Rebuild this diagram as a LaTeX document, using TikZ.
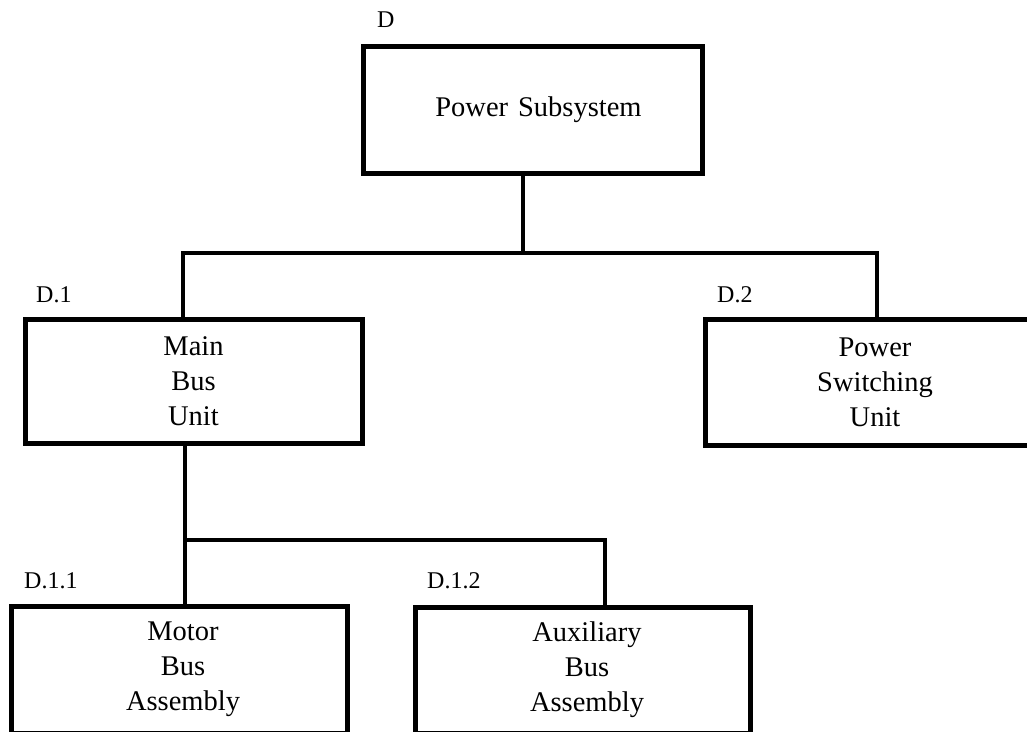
\documentclass[tikz,border=0pt]{standalone}
\usepackage{fontspec}
\setmainfont{Liberation Serif}
\begin{document}
\begin{tikzpicture}[x=1pt,y=-1pt,
  unitbox/.style={draw=black, line width=5pt, rectangle, inner sep=0pt,
    align=center, font=\fontsize{28.5}{35}\selectfont},
  tag/.style={anchor=base west, inner sep=0pt, font=\fontsize{24}{28}\selectfont},
  conn/.style={draw=black, line width=4.5pt}]
  \useasboundingbox (0,0) rectangle (1027,731);
  \clip (0,0) rectangle (1027,731);

  % unit boxes
  \node[unitbox, minimum width=339pt, minimum height=127pt] (top) at (532.5,109.5) {\hspace*{12pt}Power\hspace{0.35em}Subsystem};
  \node[unitbox, minimum width=337pt, minimum height=124pt] (d1) at (193.5,381) {Main\\Bus\\Unit};
  \node[unitbox, minimum width=340pt, minimum height=126pt] (d2) at (875,382) {Power\\Switching\\Unit};
  \node[unitbox, minimum width=336pt, minimum height=127pt] (d11) at (179,669.5) {\hspace*{8pt}Motor\\\hspace*{8pt}Bus\\\hspace*{8pt}Assembly};
  \node[unitbox, minimum width=335pt, minimum height=126pt] (d12) at (582.5,670) {\hspace*{9pt}Auxiliary\\\hspace*{9pt}Bus\\\hspace*{9pt}Assembly};

  % identifiers
  \node[tag] (ltop) at (377,27) {D};
  \node[tag] (ld1) at (36,302) {D.1};
  \node[tag] (ld2) at (717,302) {D.2};
  \node[tag] (ld11) at (24,588) {D.1.1};
  \node[tag] (ld12) at (427,588) {D.1.2};

  % tree connectors
  \coordinate (j1) at (523,253);
  \coordinate (b1) at (183,253);
  \coordinate (b2) at (877,253);
  \coordinate (j2) at (185,540);
  \coordinate (c2) at (605,540);

  \draw[conn] (top.south -| j1) -- (j1);
  \draw[conn] (d1.north -| b1) -- (b1) -- (b2) -- (d2.north -| b2);
  \draw[conn] (d1.south -| j2) -- (d11.north -| j2);
  \draw[conn] (j2) -- (c2) -- (d12.north -| c2);
\end{tikzpicture}
\end{document}
